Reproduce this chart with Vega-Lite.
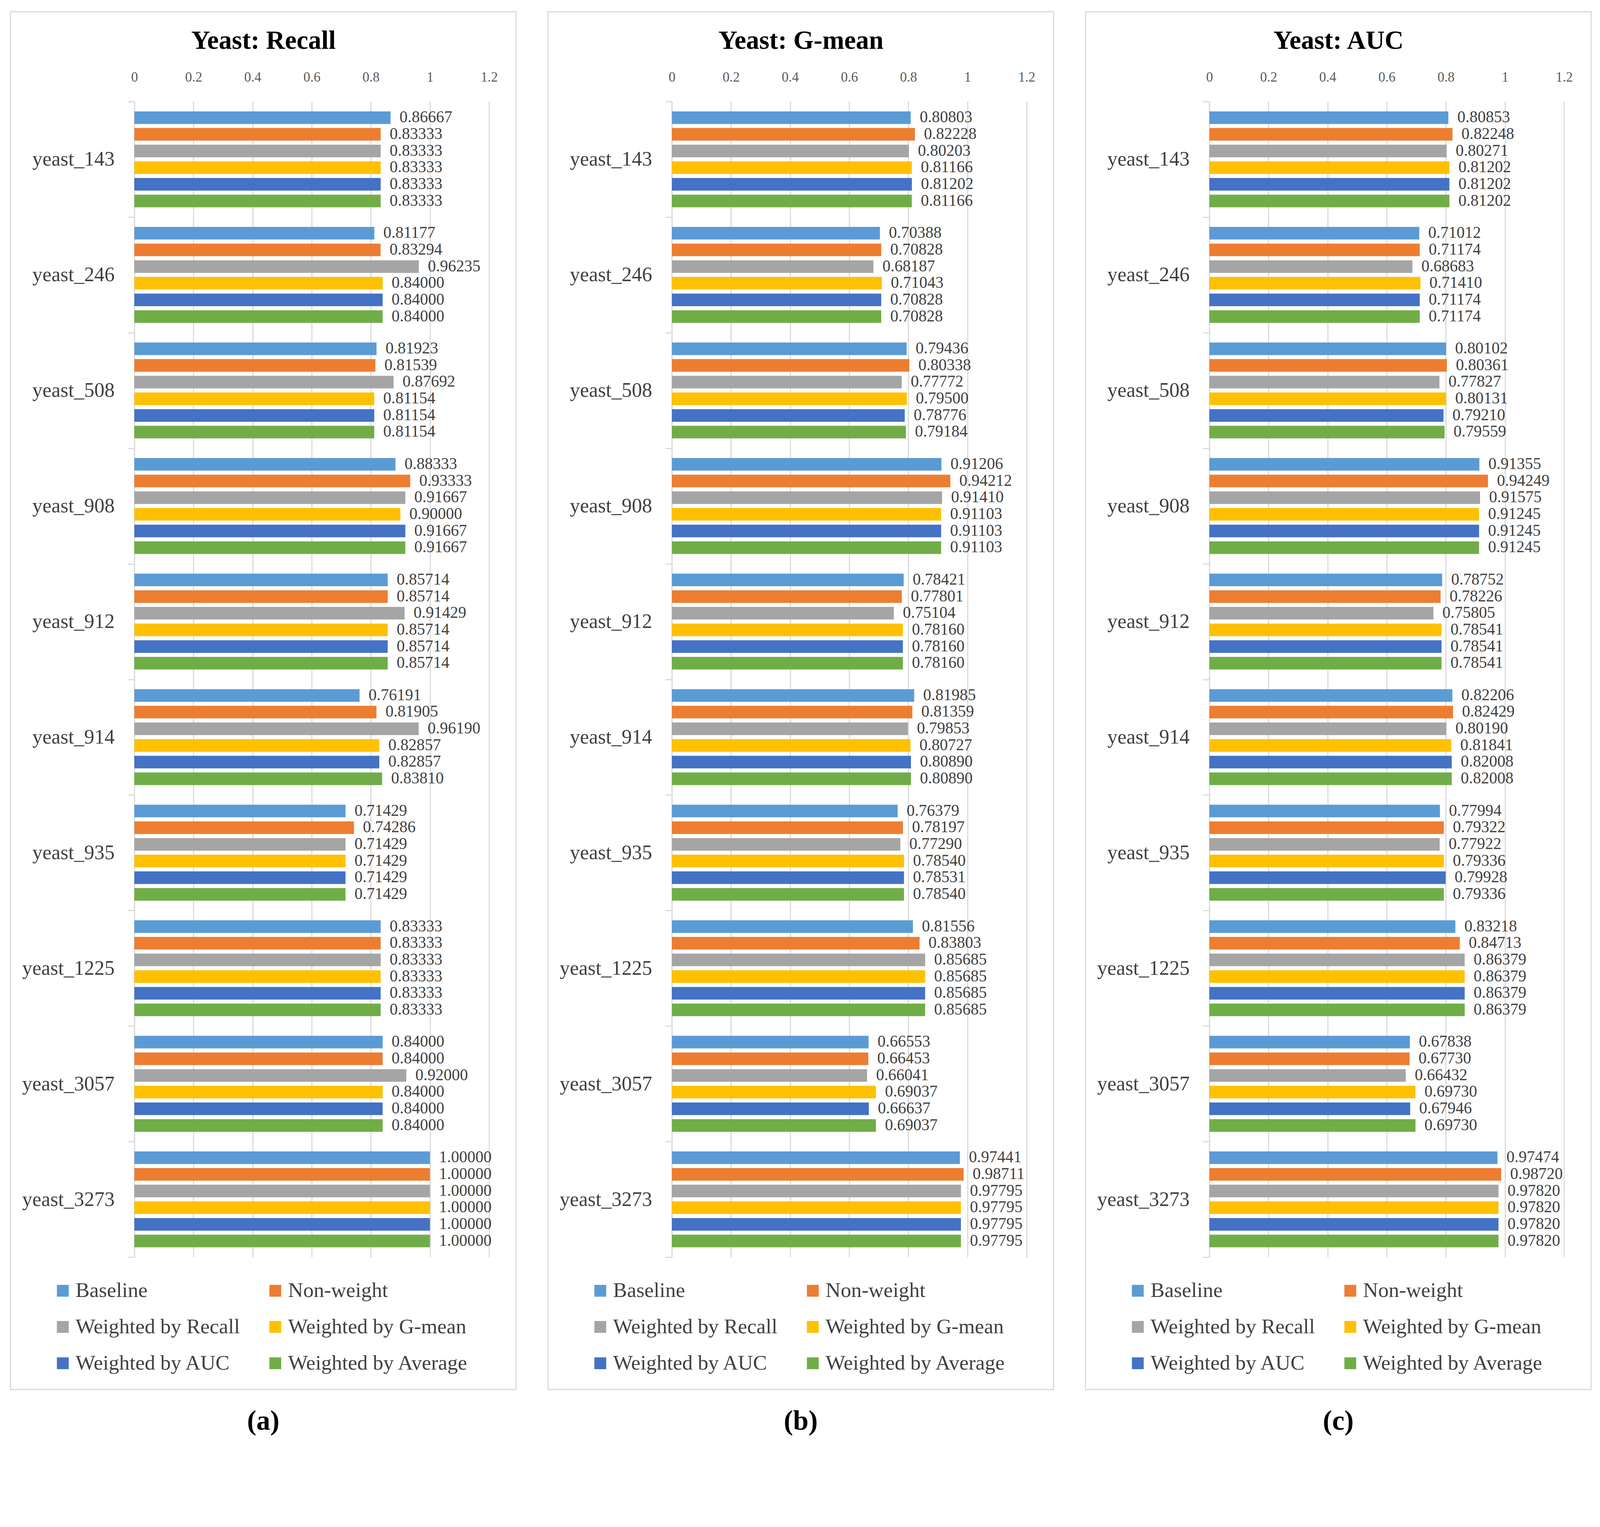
{
  "$schema": "https://vega.github.io/schema/vega-lite/v6.json",
  "description": "Yeast datasets: Recall, G-mean and AUC for six weighting schemes.",
  "background": "white",
  "padding": {"left": 25, "top": 2, "right": 0, "bottom": 0},
  "data": {
    "values": [
      {"metric": "Recall", "dataset": "yeast_143", "method": "Baseline", "value": 0.86667},
      {"metric": "Recall", "dataset": "yeast_143", "method": "Non-weight", "value": 0.83333},
      {"metric": "Recall", "dataset": "yeast_143", "method": "Weighted by Recall", "value": 0.83333},
      {"metric": "Recall", "dataset": "yeast_143", "method": "Weighted by G-mean", "value": 0.83333},
      {"metric": "Recall", "dataset": "yeast_143", "method": "Weighted by AUC", "value": 0.83333},
      {"metric": "Recall", "dataset": "yeast_143", "method": "Weighted by Average", "value": 0.83333},
      {"metric": "Recall", "dataset": "yeast_246", "method": "Baseline", "value": 0.81177},
      {"metric": "Recall", "dataset": "yeast_246", "method": "Non-weight", "value": 0.83294},
      {"metric": "Recall", "dataset": "yeast_246", "method": "Weighted by Recall", "value": 0.96235},
      {"metric": "Recall", "dataset": "yeast_246", "method": "Weighted by G-mean", "value": 0.84000},
      {"metric": "Recall", "dataset": "yeast_246", "method": "Weighted by AUC", "value": 0.84000},
      {"metric": "Recall", "dataset": "yeast_246", "method": "Weighted by Average", "value": 0.84000},
      {"metric": "Recall", "dataset": "yeast_508", "method": "Baseline", "value": 0.81923},
      {"metric": "Recall", "dataset": "yeast_508", "method": "Non-weight", "value": 0.81539},
      {"metric": "Recall", "dataset": "yeast_508", "method": "Weighted by Recall", "value": 0.87692},
      {"metric": "Recall", "dataset": "yeast_508", "method": "Weighted by G-mean", "value": 0.81154},
      {"metric": "Recall", "dataset": "yeast_508", "method": "Weighted by AUC", "value": 0.81154},
      {"metric": "Recall", "dataset": "yeast_508", "method": "Weighted by Average", "value": 0.81154},
      {"metric": "Recall", "dataset": "yeast_908", "method": "Baseline", "value": 0.88333},
      {"metric": "Recall", "dataset": "yeast_908", "method": "Non-weight", "value": 0.93333},
      {"metric": "Recall", "dataset": "yeast_908", "method": "Weighted by Recall", "value": 0.91667},
      {"metric": "Recall", "dataset": "yeast_908", "method": "Weighted by G-mean", "value": 0.90000},
      {"metric": "Recall", "dataset": "yeast_908", "method": "Weighted by AUC", "value": 0.91667},
      {"metric": "Recall", "dataset": "yeast_908", "method": "Weighted by Average", "value": 0.91667},
      {"metric": "Recall", "dataset": "yeast_912", "method": "Baseline", "value": 0.85714},
      {"metric": "Recall", "dataset": "yeast_912", "method": "Non-weight", "value": 0.85714},
      {"metric": "Recall", "dataset": "yeast_912", "method": "Weighted by Recall", "value": 0.91429},
      {"metric": "Recall", "dataset": "yeast_912", "method": "Weighted by G-mean", "value": 0.85714},
      {"metric": "Recall", "dataset": "yeast_912", "method": "Weighted by AUC", "value": 0.85714},
      {"metric": "Recall", "dataset": "yeast_912", "method": "Weighted by Average", "value": 0.85714},
      {"metric": "Recall", "dataset": "yeast_914", "method": "Baseline", "value": 0.76191},
      {"metric": "Recall", "dataset": "yeast_914", "method": "Non-weight", "value": 0.81905},
      {"metric": "Recall", "dataset": "yeast_914", "method": "Weighted by Recall", "value": 0.96190},
      {"metric": "Recall", "dataset": "yeast_914", "method": "Weighted by G-mean", "value": 0.82857},
      {"metric": "Recall", "dataset": "yeast_914", "method": "Weighted by AUC", "value": 0.82857},
      {"metric": "Recall", "dataset": "yeast_914", "method": "Weighted by Average", "value": 0.83810},
      {"metric": "Recall", "dataset": "yeast_935", "method": "Baseline", "value": 0.71429},
      {"metric": "Recall", "dataset": "yeast_935", "method": "Non-weight", "value": 0.74286},
      {"metric": "Recall", "dataset": "yeast_935", "method": "Weighted by Recall", "value": 0.71429},
      {"metric": "Recall", "dataset": "yeast_935", "method": "Weighted by G-mean", "value": 0.71429},
      {"metric": "Recall", "dataset": "yeast_935", "method": "Weighted by AUC", "value": 0.71429},
      {"metric": "Recall", "dataset": "yeast_935", "method": "Weighted by Average", "value": 0.71429},
      {"metric": "Recall", "dataset": "yeast_1225", "method": "Baseline", "value": 0.83333},
      {"metric": "Recall", "dataset": "yeast_1225", "method": "Non-weight", "value": 0.83333},
      {"metric": "Recall", "dataset": "yeast_1225", "method": "Weighted by Recall", "value": 0.83333},
      {"metric": "Recall", "dataset": "yeast_1225", "method": "Weighted by G-mean", "value": 0.83333},
      {"metric": "Recall", "dataset": "yeast_1225", "method": "Weighted by AUC", "value": 0.83333},
      {"metric": "Recall", "dataset": "yeast_1225", "method": "Weighted by Average", "value": 0.83333},
      {"metric": "Recall", "dataset": "yeast_3057", "method": "Baseline", "value": 0.84000},
      {"metric": "Recall", "dataset": "yeast_3057", "method": "Non-weight", "value": 0.84000},
      {"metric": "Recall", "dataset": "yeast_3057", "method": "Weighted by Recall", "value": 0.92000},
      {"metric": "Recall", "dataset": "yeast_3057", "method": "Weighted by G-mean", "value": 0.84000},
      {"metric": "Recall", "dataset": "yeast_3057", "method": "Weighted by AUC", "value": 0.84000},
      {"metric": "Recall", "dataset": "yeast_3057", "method": "Weighted by Average", "value": 0.84000},
      {"metric": "Recall", "dataset": "yeast_3273", "method": "Baseline", "value": 1.0},
      {"metric": "Recall", "dataset": "yeast_3273", "method": "Non-weight", "value": 1.0},
      {"metric": "Recall", "dataset": "yeast_3273", "method": "Weighted by Recall", "value": 1.0},
      {"metric": "Recall", "dataset": "yeast_3273", "method": "Weighted by G-mean", "value": 1.0},
      {"metric": "Recall", "dataset": "yeast_3273", "method": "Weighted by AUC", "value": 1.0},
      {"metric": "Recall", "dataset": "yeast_3273", "method": "Weighted by Average", "value": 1.0},

      {"metric": "G-mean", "dataset": "yeast_143", "method": "Baseline", "value": 0.80803},
      {"metric": "G-mean", "dataset": "yeast_143", "method": "Non-weight", "value": 0.82228},
      {"metric": "G-mean", "dataset": "yeast_143", "method": "Weighted by Recall", "value": 0.80203},
      {"metric": "G-mean", "dataset": "yeast_143", "method": "Weighted by G-mean", "value": 0.81166},
      {"metric": "G-mean", "dataset": "yeast_143", "method": "Weighted by AUC", "value": 0.81202},
      {"metric": "G-mean", "dataset": "yeast_143", "method": "Weighted by Average", "value": 0.81166},
      {"metric": "G-mean", "dataset": "yeast_246", "method": "Baseline", "value": 0.70388},
      {"metric": "G-mean", "dataset": "yeast_246", "method": "Non-weight", "value": 0.70828},
      {"metric": "G-mean", "dataset": "yeast_246", "method": "Weighted by Recall", "value": 0.68187},
      {"metric": "G-mean", "dataset": "yeast_246", "method": "Weighted by G-mean", "value": 0.71043},
      {"metric": "G-mean", "dataset": "yeast_246", "method": "Weighted by AUC", "value": 0.70828},
      {"metric": "G-mean", "dataset": "yeast_246", "method": "Weighted by Average", "value": 0.70828},
      {"metric": "G-mean", "dataset": "yeast_508", "method": "Baseline", "value": 0.79436},
      {"metric": "G-mean", "dataset": "yeast_508", "method": "Non-weight", "value": 0.80338},
      {"metric": "G-mean", "dataset": "yeast_508", "method": "Weighted by Recall", "value": 0.77772},
      {"metric": "G-mean", "dataset": "yeast_508", "method": "Weighted by G-mean", "value": 0.79500},
      {"metric": "G-mean", "dataset": "yeast_508", "method": "Weighted by AUC", "value": 0.78776},
      {"metric": "G-mean", "dataset": "yeast_508", "method": "Weighted by Average", "value": 0.79184},
      {"metric": "G-mean", "dataset": "yeast_908", "method": "Baseline", "value": 0.91206},
      {"metric": "G-mean", "dataset": "yeast_908", "method": "Non-weight", "value": 0.94212},
      {"metric": "G-mean", "dataset": "yeast_908", "method": "Weighted by Recall", "value": 0.91410},
      {"metric": "G-mean", "dataset": "yeast_908", "method": "Weighted by G-mean", "value": 0.91103},
      {"metric": "G-mean", "dataset": "yeast_908", "method": "Weighted by AUC", "value": 0.91103},
      {"metric": "G-mean", "dataset": "yeast_908", "method": "Weighted by Average", "value": 0.91103},
      {"metric": "G-mean", "dataset": "yeast_912", "method": "Baseline", "value": 0.78421},
      {"metric": "G-mean", "dataset": "yeast_912", "method": "Non-weight", "value": 0.77801},
      {"metric": "G-mean", "dataset": "yeast_912", "method": "Weighted by Recall", "value": 0.75104},
      {"metric": "G-mean", "dataset": "yeast_912", "method": "Weighted by G-mean", "value": 0.78160},
      {"metric": "G-mean", "dataset": "yeast_912", "method": "Weighted by AUC", "value": 0.78160},
      {"metric": "G-mean", "dataset": "yeast_912", "method": "Weighted by Average", "value": 0.78160},
      {"metric": "G-mean", "dataset": "yeast_914", "method": "Baseline", "value": 0.81985},
      {"metric": "G-mean", "dataset": "yeast_914", "method": "Non-weight", "value": 0.81359},
      {"metric": "G-mean", "dataset": "yeast_914", "method": "Weighted by Recall", "value": 0.79853},
      {"metric": "G-mean", "dataset": "yeast_914", "method": "Weighted by G-mean", "value": 0.80727},
      {"metric": "G-mean", "dataset": "yeast_914", "method": "Weighted by AUC", "value": 0.80890},
      {"metric": "G-mean", "dataset": "yeast_914", "method": "Weighted by Average", "value": 0.80890},
      {"metric": "G-mean", "dataset": "yeast_935", "method": "Baseline", "value": 0.76379},
      {"metric": "G-mean", "dataset": "yeast_935", "method": "Non-weight", "value": 0.78197},
      {"metric": "G-mean", "dataset": "yeast_935", "method": "Weighted by Recall", "value": 0.77290},
      {"metric": "G-mean", "dataset": "yeast_935", "method": "Weighted by G-mean", "value": 0.78540},
      {"metric": "G-mean", "dataset": "yeast_935", "method": "Weighted by AUC", "value": 0.78531},
      {"metric": "G-mean", "dataset": "yeast_935", "method": "Weighted by Average", "value": 0.78540},
      {"metric": "G-mean", "dataset": "yeast_1225", "method": "Baseline", "value": 0.81556},
      {"metric": "G-mean", "dataset": "yeast_1225", "method": "Non-weight", "value": 0.83803},
      {"metric": "G-mean", "dataset": "yeast_1225", "method": "Weighted by Recall", "value": 0.85685},
      {"metric": "G-mean", "dataset": "yeast_1225", "method": "Weighted by G-mean", "value": 0.85685},
      {"metric": "G-mean", "dataset": "yeast_1225", "method": "Weighted by AUC", "value": 0.85685},
      {"metric": "G-mean", "dataset": "yeast_1225", "method": "Weighted by Average", "value": 0.85685},
      {"metric": "G-mean", "dataset": "yeast_3057", "method": "Baseline", "value": 0.66553},
      {"metric": "G-mean", "dataset": "yeast_3057", "method": "Non-weight", "value": 0.66453},
      {"metric": "G-mean", "dataset": "yeast_3057", "method": "Weighted by Recall", "value": 0.66041},
      {"metric": "G-mean", "dataset": "yeast_3057", "method": "Weighted by G-mean", "value": 0.69037},
      {"metric": "G-mean", "dataset": "yeast_3057", "method": "Weighted by AUC", "value": 0.66637},
      {"metric": "G-mean", "dataset": "yeast_3057", "method": "Weighted by Average", "value": 0.69037},
      {"metric": "G-mean", "dataset": "yeast_3273", "method": "Baseline", "value": 0.97441},
      {"metric": "G-mean", "dataset": "yeast_3273", "method": "Non-weight", "value": 0.98711},
      {"metric": "G-mean", "dataset": "yeast_3273", "method": "Weighted by Recall", "value": 0.97795},
      {"metric": "G-mean", "dataset": "yeast_3273", "method": "Weighted by G-mean", "value": 0.97795},
      {"metric": "G-mean", "dataset": "yeast_3273", "method": "Weighted by AUC", "value": 0.97795},
      {"metric": "G-mean", "dataset": "yeast_3273", "method": "Weighted by Average", "value": 0.97795},

      {"metric": "AUC", "dataset": "yeast_143", "method": "Baseline", "value": 0.80853},
      {"metric": "AUC", "dataset": "yeast_143", "method": "Non-weight", "value": 0.82248},
      {"metric": "AUC", "dataset": "yeast_143", "method": "Weighted by Recall", "value": 0.80271},
      {"metric": "AUC", "dataset": "yeast_143", "method": "Weighted by G-mean", "value": 0.81202},
      {"metric": "AUC", "dataset": "yeast_143", "method": "Weighted by AUC", "value": 0.81202},
      {"metric": "AUC", "dataset": "yeast_143", "method": "Weighted by Average", "value": 0.81202},
      {"metric": "AUC", "dataset": "yeast_246", "method": "Baseline", "value": 0.71012},
      {"metric": "AUC", "dataset": "yeast_246", "method": "Non-weight", "value": 0.71174},
      {"metric": "AUC", "dataset": "yeast_246", "method": "Weighted by Recall", "value": 0.68683},
      {"metric": "AUC", "dataset": "yeast_246", "method": "Weighted by G-mean", "value": 0.71410},
      {"metric": "AUC", "dataset": "yeast_246", "method": "Weighted by AUC", "value": 0.71174},
      {"metric": "AUC", "dataset": "yeast_246", "method": "Weighted by Average", "value": 0.71174},
      {"metric": "AUC", "dataset": "yeast_508", "method": "Baseline", "value": 0.80102},
      {"metric": "AUC", "dataset": "yeast_508", "method": "Non-weight", "value": 0.80361},
      {"metric": "AUC", "dataset": "yeast_508", "method": "Weighted by Recall", "value": 0.77827},
      {"metric": "AUC", "dataset": "yeast_508", "method": "Weighted by G-mean", "value": 0.80131},
      {"metric": "AUC", "dataset": "yeast_508", "method": "Weighted by AUC", "value": 0.79210},
      {"metric": "AUC", "dataset": "yeast_508", "method": "Weighted by Average", "value": 0.79559},
      {"metric": "AUC", "dataset": "yeast_908", "method": "Baseline", "value": 0.91355},
      {"metric": "AUC", "dataset": "yeast_908", "method": "Non-weight", "value": 0.94249},
      {"metric": "AUC", "dataset": "yeast_908", "method": "Weighted by Recall", "value": 0.91575},
      {"metric": "AUC", "dataset": "yeast_908", "method": "Weighted by G-mean", "value": 0.91245},
      {"metric": "AUC", "dataset": "yeast_908", "method": "Weighted by AUC", "value": 0.91245},
      {"metric": "AUC", "dataset": "yeast_908", "method": "Weighted by Average", "value": 0.91245},
      {"metric": "AUC", "dataset": "yeast_912", "method": "Baseline", "value": 0.78752},
      {"metric": "AUC", "dataset": "yeast_912", "method": "Non-weight", "value": 0.78226},
      {"metric": "AUC", "dataset": "yeast_912", "method": "Weighted by Recall", "value": 0.75805},
      {"metric": "AUC", "dataset": "yeast_912", "method": "Weighted by G-mean", "value": 0.78541},
      {"metric": "AUC", "dataset": "yeast_912", "method": "Weighted by AUC", "value": 0.78541},
      {"metric": "AUC", "dataset": "yeast_912", "method": "Weighted by Average", "value": 0.78541},
      {"metric": "AUC", "dataset": "yeast_914", "method": "Baseline", "value": 0.82206},
      {"metric": "AUC", "dataset": "yeast_914", "method": "Non-weight", "value": 0.82429},
      {"metric": "AUC", "dataset": "yeast_914", "method": "Weighted by Recall", "value": 0.80190},
      {"metric": "AUC", "dataset": "yeast_914", "method": "Weighted by G-mean", "value": 0.81841},
      {"metric": "AUC", "dataset": "yeast_914", "method": "Weighted by AUC", "value": 0.82008},
      {"metric": "AUC", "dataset": "yeast_914", "method": "Weighted by Average", "value": 0.82008},
      {"metric": "AUC", "dataset": "yeast_935", "method": "Baseline", "value": 0.77994},
      {"metric": "AUC", "dataset": "yeast_935", "method": "Non-weight", "value": 0.79322},
      {"metric": "AUC", "dataset": "yeast_935", "method": "Weighted by Recall", "value": 0.77922},
      {"metric": "AUC", "dataset": "yeast_935", "method": "Weighted by G-mean", "value": 0.79336},
      {"metric": "AUC", "dataset": "yeast_935", "method": "Weighted by AUC", "value": 0.79928},
      {"metric": "AUC", "dataset": "yeast_935", "method": "Weighted by Average", "value": 0.79336},
      {"metric": "AUC", "dataset": "yeast_1225", "method": "Baseline", "value": 0.83218},
      {"metric": "AUC", "dataset": "yeast_1225", "method": "Non-weight", "value": 0.84713},
      {"metric": "AUC", "dataset": "yeast_1225", "method": "Weighted by Recall", "value": 0.86379},
      {"metric": "AUC", "dataset": "yeast_1225", "method": "Weighted by G-mean", "value": 0.86379},
      {"metric": "AUC", "dataset": "yeast_1225", "method": "Weighted by AUC", "value": 0.86379},
      {"metric": "AUC", "dataset": "yeast_1225", "method": "Weighted by Average", "value": 0.86379},
      {"metric": "AUC", "dataset": "yeast_3057", "method": "Baseline", "value": 0.67838},
      {"metric": "AUC", "dataset": "yeast_3057", "method": "Non-weight", "value": 0.67730},
      {"metric": "AUC", "dataset": "yeast_3057", "method": "Weighted by Recall", "value": 0.66432},
      {"metric": "AUC", "dataset": "yeast_3057", "method": "Weighted by G-mean", "value": 0.69730},
      {"metric": "AUC", "dataset": "yeast_3057", "method": "Weighted by AUC", "value": 0.67946},
      {"metric": "AUC", "dataset": "yeast_3057", "method": "Weighted by Average", "value": 0.69730},
      {"metric": "AUC", "dataset": "yeast_3273", "method": "Baseline", "value": 0.97474},
      {"metric": "AUC", "dataset": "yeast_3273", "method": "Non-weight", "value": 0.98720},
      {"metric": "AUC", "dataset": "yeast_3273", "method": "Weighted by Recall", "value": 0.97820},
      {"metric": "AUC", "dataset": "yeast_3273", "method": "Weighted by G-mean", "value": 0.97820},
      {"metric": "AUC", "dataset": "yeast_3273", "method": "Weighted by AUC", "value": 0.97820},
      {"metric": "AUC", "dataset": "yeast_3273", "method": "Weighted by Average", "value": 0.97820}
    ]
  },
  "spacing": 78,
  "hconcat": [
    {
      "width": 1294,
      "height": 3528,
      "title": {"text": "(a)"},
      "transform": [{"filter": "datum.metric === 'Recall'"}],
      "encoding": {
        "y": {"field": "dataset", "type": "nominal",
          "sort": ["yeast_143", "yeast_246", "yeast_508", "yeast_908", "yeast_912", "yeast_914", "yeast_935", "yeast_1225", "yeast_3057", "yeast_3273"],
          "scale": {"range": [230, 3189], "paddingInner": 0, "paddingOuter": 0},
          "axis": {"orient": "left", "offset": -317, "title": null}},
        "yOffset": {"field": "method", "type": "nominal",
          "sort": ["Baseline", "Non-weight", "Weighted by Recall", "Weighted by G-mean", "Weighted by AUC", "Weighted by Average"],
          "scale": {"paddingInner": 0.244, "paddingOuter": 0.589}},
        "x": {"field": "value", "type": "quantitative",
          "scale": {"domain": [0, 1.2], "range": [317, 1225]},
          "axis": {"orient": "top", "offset": -230, "values": [0, 0.2, 0.4, 0.6, 0.8, 1, 1.2], "title": "Yeast: Recall"}}
      },
      "layer": [
        {"mark": "bar",
         "encoding": {"color": {"field": "method", "type": "nominal", "title": null,
           "scale": {"domain": ["Baseline", "Weighted by Recall", "Weighted by AUC", "Non-weight", "Weighted by G-mean", "Weighted by Average"],
                     "range": ["#5B9BD5", "#A5A5A5", "#4472C4", "#ED7D31", "#FFC000", "#70AD47"]}}}},
        {"mark": {"type": "text", "align": "left", "baseline": "middle", "dx": 23},
         "encoding": {"text": {"field": "value", "type": "quantitative", "format": ".5f"}}}
      ]
    },
    {
      "width": 1294,
      "height": 3528,
      "title": {"text": "(b)"},
      "transform": [{"filter": "datum.metric === 'G-mean'"}],
      "encoding": {
        "y": {"field": "dataset", "type": "nominal",
          "sort": ["yeast_143", "yeast_246", "yeast_508", "yeast_908", "yeast_912", "yeast_914", "yeast_935", "yeast_1225", "yeast_3057", "yeast_3273"],
          "scale": {"range": [230, 3189], "paddingInner": 0, "paddingOuter": 0},
          "axis": {"orient": "left", "offset": -317, "title": null}},
        "yOffset": {"field": "method", "type": "nominal",
          "sort": ["Baseline", "Non-weight", "Weighted by Recall", "Weighted by G-mean", "Weighted by AUC", "Weighted by Average"],
          "scale": {"paddingInner": 0.244, "paddingOuter": 0.589}},
        "x": {"field": "value", "type": "quantitative",
          "scale": {"domain": [0, 1.2], "range": [317, 1225]},
          "axis": {"orient": "top", "offset": -230, "values": [0, 0.2, 0.4, 0.6, 0.8, 1, 1.2], "title": "Yeast: G-mean"}}
      },
      "layer": [
        {"mark": "bar",
         "encoding": {"color": {"field": "method", "type": "nominal", "title": null,
           "scale": {"domain": ["Baseline", "Weighted by Recall", "Weighted by AUC", "Non-weight", "Weighted by G-mean", "Weighted by Average"],
                     "range": ["#5B9BD5", "#A5A5A5", "#4472C4", "#ED7D31", "#FFC000", "#70AD47"]}}}},
        {"mark": {"type": "text", "align": "left", "baseline": "middle", "dx": 23},
         "encoding": {"text": {"field": "value", "type": "quantitative", "format": ".5f"}}}
      ]
    },
    {
      "width": 1294,
      "height": 3528,
      "title": {"text": "(c)"},
      "transform": [{"filter": "datum.metric === 'AUC'"}],
      "encoding": {
        "y": {"field": "dataset", "type": "nominal",
          "sort": ["yeast_143", "yeast_246", "yeast_508", "yeast_908", "yeast_912", "yeast_914", "yeast_935", "yeast_1225", "yeast_3057", "yeast_3273"],
          "scale": {"range": [230, 3189], "paddingInner": 0, "paddingOuter": 0},
          "axis": {"orient": "left", "offset": -317, "title": null}},
        "yOffset": {"field": "method", "type": "nominal",
          "sort": ["Baseline", "Non-weight", "Weighted by Recall", "Weighted by G-mean", "Weighted by AUC", "Weighted by Average"],
          "scale": {"paddingInner": 0.244, "paddingOuter": 0.589}},
        "x": {"field": "value", "type": "quantitative",
          "scale": {"domain": [0, 1.2], "range": [317, 1225]},
          "axis": {"orient": "top", "offset": -230, "values": [0, 0.2, 0.4, 0.6, 0.8, 1, 1.2], "title": "Yeast: AUC"}}
      },
      "layer": [
        {"mark": "bar",
         "encoding": {"color": {"field": "method", "type": "nominal", "title": null,
           "scale": {"domain": ["Baseline", "Weighted by Recall", "Weighted by AUC", "Non-weight", "Weighted by G-mean", "Weighted by Average"],
                     "range": ["#5B9BD5", "#A5A5A5", "#4472C4", "#ED7D31", "#FFC000", "#70AD47"]}}}},
        {"mark": {"type": "text", "align": "left", "baseline": "middle", "dx": 23},
         "encoding": {"text": {"field": "value", "type": "quantitative", "format": ".5f"}}}
      ]
    }
  ],
  "resolve": {
    "scale": {"x": "independent", "y": "independent", "color": "independent"},
    "legend": {"color": "independent"}
  },
  "config": {
    "font": "Liberation Serif",
    "view": {"stroke": "#d9d9d9", "strokeWidth": 2.8},
    "text": {"font": "Liberation Serif", "fontSize": 41.5, "color": "#404040"},
    "axisY": {
      "tickBand": "extent", "tickSize": 17, "tickWidth": 2.8, "tickColor": "#d9d9d9",
      "domainColor": "#d9d9d9", "domainWidth": 2.8, "grid": false,
      "labelFont": "Liberation Serif", "labelFontSize": 52, "labelColor": "#404040",
      "labelPadding": 34, "labelLimit": 400
    },
    "axisX": {
      "grid": true, "gridColor": "#d9d9d9", "gridWidth": 2.8,
      "domain": false, "ticks": false, "tickSize": 0,
      "format": "~g", "labelFlush": false,
      "labelFont": "Liberation Serif", "labelFontSize": 35, "labelColor": "#595959",
      "labelPadding": 45,
      "titleFont": "Liberation Serif", "titleFontSize": 67, "titleFontWeight": "bold",
      "titleColor": "#000000", "titleX": 647, "titleY": -136, "titleBaseline": "alphabetic"
    },
    "legend": {
      "orient": "none", "legendX": 107, "legendY": 3248,
      "columns": 2, "columnPadding": 63, "rowPadding": 38,
      "symbolType": "square", "symbolSize": 917, "symbolStrokeWidth": 0,
      "labelFont": "Liberation Serif", "labelFontSize": 53.5, "labelColor": "#404040",
      "labelOffset": 6, "labelLimit": 1000
    },
    "title": {
      "orient": "bottom", "anchor": "middle", "frame": "group", "offset": 47,
      "font": "Liberation Serif", "fontSize": 71, "fontWeight": "bold", "color": "#000000"
    }
  }
}
